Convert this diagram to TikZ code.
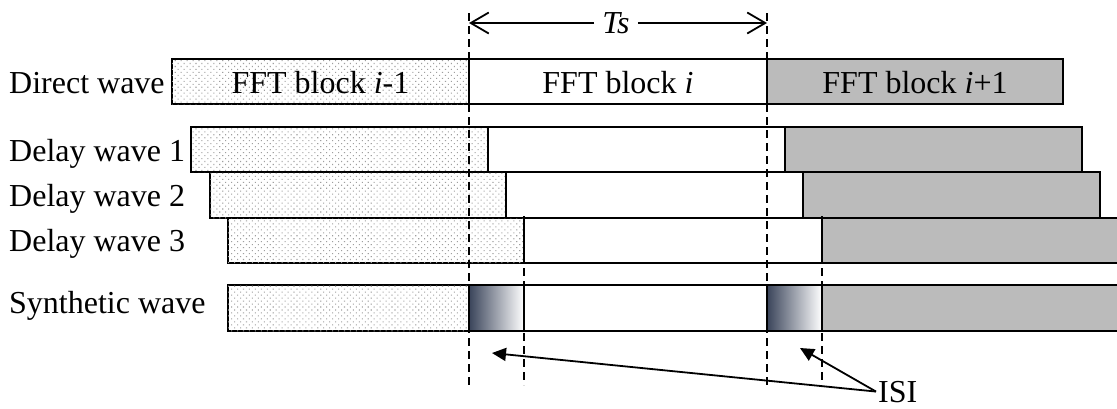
\documentclass[tikz,border=0pt]{standalone}
\usepackage{fontspec}
\setmainfont{Liberation Serif}
\usetikzlibrary{arrows.meta,patterns.meta}
\definecolor{blockgray}{RGB}{187,187,187}
\definecolor{isidark}{RGB}{58,68,90}
\begin{document}
\begin{tikzpicture}[x=1pt,y=-1pt,
  txt/.style={font=\fontsize{32}{36}\selectfont, inner sep=0pt},
  blk/.style={draw=black, line width=2.6pt},
  prevblk/.style={blk, fill=white,
    postaction={pattern={Dots[distance=4.2pt,radius=0.75pt,angle=45]}, pattern color=gray!75}},
  curblk/.style={blk, fill=white},
  nextblk/.style={blk, fill=blockgray},
  isiblk/.style={blk, left color=isidark, middle color=isidark!35, right color=white},
  guide/.style={line width=1.8pt, dash pattern=on 8pt off 5pt},
  span/.style={line width=1.8pt, -{Straight Barb[length=18pt,width=21pt,line width=1.8pt]}},
  pointer/.style={line width=1.8pt, -{Triangle[length=14pt,width=13pt]}}
]
\useasboundingbox (0,0) rectangle (1117,408);
\begin{scope}
\clip (0,0) rectangle (1117,408);

% direct wave
\draw[prevblk] (172,59) rectangle (469,104);
\draw[curblk]  (469,59) rectangle (767,104);
\draw[nextblk] (767,59) rectangle (1063,104);
\node[txt, anchor=base] (b0) at (320.5,93) {FFT block \textit{i}-1};
\node[txt, anchor=base] (b1) at (618,93) {FFT block \textit{i}};
\node[txt, anchor=base] (b2) at (915,93) {FFT block \textit{i}+1};

% delayed copies
\draw[prevblk] (191,127) rectangle (488,172);
\draw[curblk]  (488,127) rectangle (785,172);
\draw[nextblk] (785,127) rectangle (1082,172);

\draw[prevblk] (210,172) rectangle (506,218);
\draw[curblk]  (506,172) rectangle (803,218);
\draw[nextblk] (803,172) rectangle (1100,218);

\draw[prevblk] (228,218) rectangle (524,263);
\draw[curblk]  (524,218) rectangle (822,263);
\draw[nextblk] (822,218) rectangle (1130,263);

% synthetic wave with inter-symbol interference zones
\draw[prevblk] (228,285) rectangle (469,331);
\draw[isiblk]  (469,285) rectangle (524,331);
\draw[curblk]  (524,285) rectangle (767,331);
\draw[isiblk]  (767,285) rectangle (822,331);
\draw[nextblk] (822,285) rectangle (1130,331);

% row labels
\node[txt, anchor=base west] (l0) at (9,93)  {Direct wave};
\node[txt, anchor=base west] (l1) at (9,161) {Delay wave 1};
\node[txt, anchor=base west] (l2) at (9,206) {Delay wave 2};
\node[txt, anchor=base west] (l3) at (9,251) {Delay wave 3};
\node[txt, anchor=base west] (l4) at (9,313) {Synthetic wave};

% timing guides
\coordinate (g0t) at (469,13);  \coordinate (g0b) at (469,388);
\coordinate (g1t) at (767,13);  \coordinate (g1b) at (767,388);
\coordinate (g2t) at (524,216); \coordinate (g2b) at (524,385);
\coordinate (g3t) at (822,216); \coordinate (g3b) at (822,385);
\draw[guide] (g0t) -- (g0b);
\draw[guide] (g1t) -- (g1b);
\draw[guide] (g2t) -- (g2b);
\draw[guide] (g3t) -- (g3b);

% symbol period
\node[txt, inner xsep=8pt] (ts) at (616,23) {\textit{Ts}};
\coordinate (tsl) at (469,23);
\coordinate (tsr) at (767,23);
\draw[span] (ts.west) -- (tsl);
\draw[span] (ts.east) -- (tsr);

% ISI callout
\node[txt, anchor=base west] (isi) at (878,402) {ISI};
\coordinate (isia) at (492,353);
\coordinate (isib) at (800,348);
\draw[pointer] ([xshift=-2pt]isi.west) -- (isia);
\draw[pointer] ([xshift=-2pt]isi.west) -- (isib);
\end{scope}
\end{tikzpicture}
\end{document}
